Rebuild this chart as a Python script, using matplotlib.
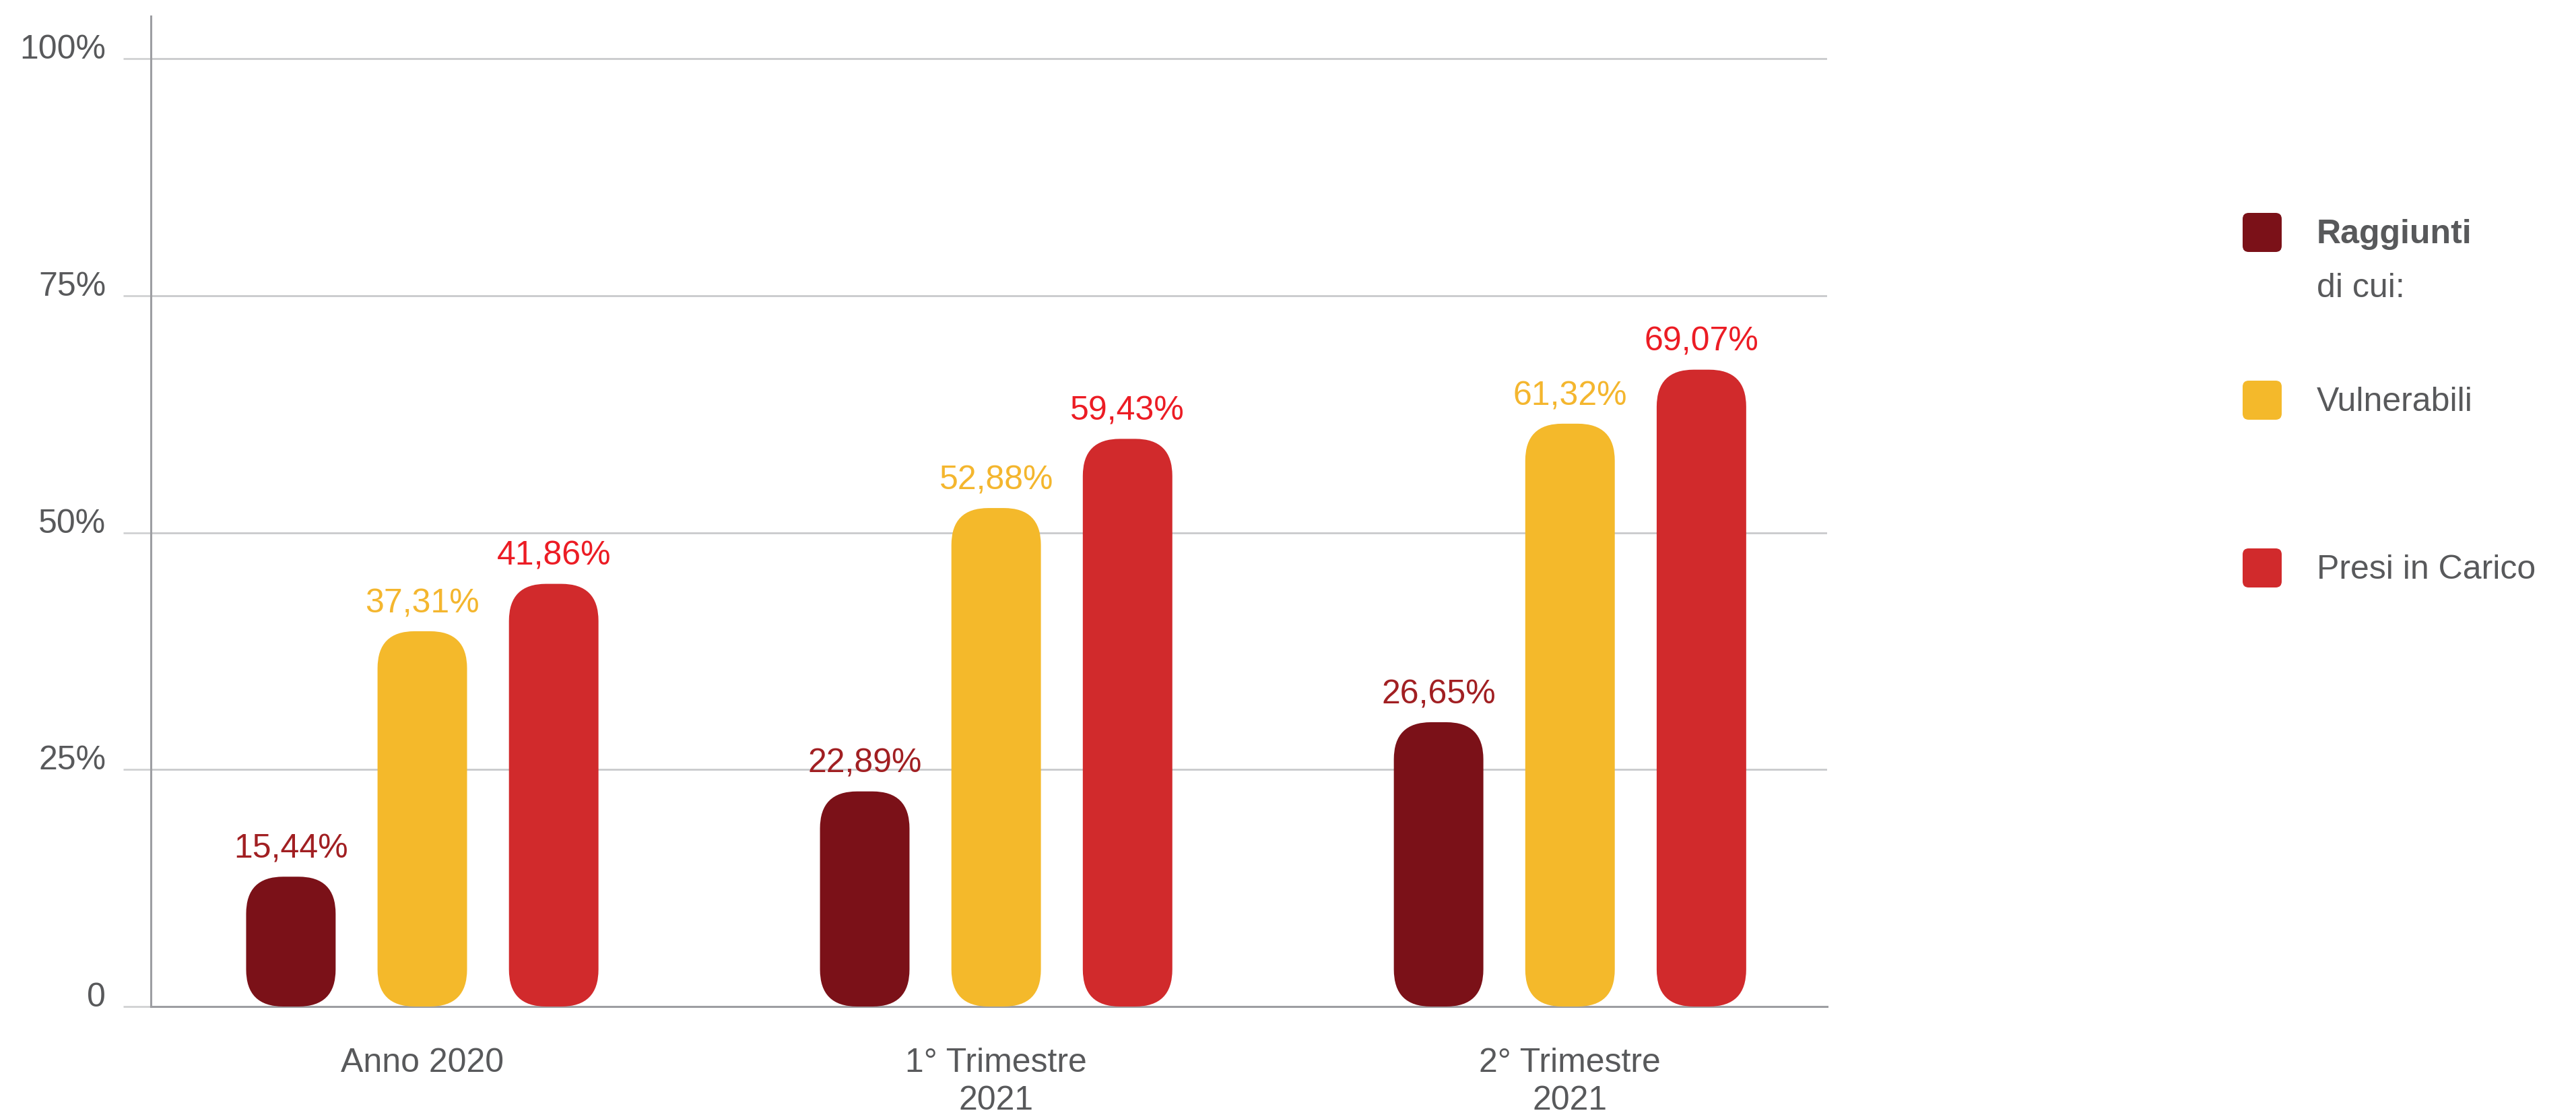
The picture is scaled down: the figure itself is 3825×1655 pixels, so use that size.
import matplotlib.pyplot as plt
from matplotlib.patches import FancyBboxPatch

categories = ['Anno 2020', '1° Trimestre\n2021', '2° Trimestre\n2021']
series_names = ['Raggiunti', 'Vulnerabili', 'Presi in Carico']

# bar heights as drawn in the picture (%), the printed labels are below
raggiunti = [13.7, 22.7, 30.0]
vulnerabili = [39.6, 52.6, 61.5]
presi_in_carico = [44.6, 59.9, 67.2]

raggiunti_labels = ['15,44%', '22,89%', '26,65%']
vulnerabili_labels = ['37,31%', '52,88%', '61,32%']
presi_labels = ['41,86%', '59,43%', '69,07%']

y_ticks = [0, 25, 50, 75, 100]
y_tick_labels = ['0', '25%', '50%', '75%', '100%']

bar_colors = ['#7b1118', '#f4b92b', '#d12a2c']
label_colors = ['#a11f22', '#f4b62e', '#ec1c24']
gray = '#58595b'
fs = 36

plt.rcParams['font.family'] = ['Liberation Sans', 'DejaVu Sans']

W, H = 3825, 1655
fig = plt.figure(figsize=(W / 100, H / 100), dpi=100)
ax = fig.add_axes([224 / W, 1 - 1494 / H, (2713 - 224) / W, (1494 - 24) / H])
ax.set_xlim(-0.473, 2.448)
ax.set_ylim(0, 104.5)

# pixels per data unit, used to keep the bar corners circular
p0 = ax.transData.transform((0, 0))
p1 = ax.transData.transform((1, 1))
px_x, px_y = p1[0] - p0[0], p1[1] - p0[1]

bar_w = 0.156
offset = 0.229
# the 'round' style uses bezier corners, a bit tighter than a true arc
radius = 55 / px_x

series = [raggiunti, vulnerabili, presi_in_carico]
series_labels = [raggiunti_labels, vulnerabili_labels, presi_labels]

for i, (vals, labs) in enumerate(zip(series, series_labels)):
    for j, (v, lab) in enumerate(zip(vals, labs)):
        x = j + (i - 1) * offset
        bar = FancyBboxPatch((x - bar_w / 2, 0), bar_w, v,
                             boxstyle=f'round,pad=0,rounding_size={radius}',
                             mutation_aspect=px_x / px_y,
                             fc=bar_colors[i], ec='none', zorder=3)
        ax.add_patch(bar)
        ax.annotate(lab, (x, v), xytext=(0, 20), textcoords='offset points',
                    ha='center', va='baseline', color=label_colors[i], fontsize=fs)

ax.set_yticks(y_ticks, y_tick_labels)
ax.set_xticks(range(len(categories)), categories)
ax.tick_params(axis='y', length=29.5, width=2, color='#d0d1d3', pad=18.7,
               labelsize=fs, labelcolor=gray)
ax.tick_params(axis='x', length=0, pad=44, labelsize=fs, labelcolor=gray)
for t in ax.get_yticklabels():
    t.set_verticalalignment('baseline')
for t in ax.get_xticklabels():
    t.set_linespacing(1.28)

ax.grid(axis='y', color='#c9cacc', linewidth=2)
ax.set_axisbelow(True)
for s in ['top', 'right']:
    ax.spines[s].set_visible(False)
for s in ['left', 'bottom']:
    ax.spines[s].set_color('#9d9ea2')
    ax.spines[s].set_linewidth(2.2)

# legend drawn by hand: squares plus text, "di cui:" under the first entry
legend_y = [345, 594, 843]
for name, color, yc in zip(series_names, bar_colors, legend_y):
    sq = FancyBboxPatch((3330 / W, 1 - (yc + 29) / H), 58 / W, 58 / H,
                        boxstyle=f'round,pad=0,rounding_size={9 / W}',
                        mutation_aspect=W / H, transform=fig.transFigure,
                        fc=color, ec='none')
    fig.patches.append(sq)
    weight = 'bold' if name == 'Raggiunti' else 'normal'
    fig.text(3440 / W, 1 - (yc + 16) / H, name, ha='left', va='baseline',
             fontsize=fs, color=gray, fontweight=weight)

fig.text(3440 / W, 1 - 441 / H, 'di cui:', ha='left', va='baseline',
         fontsize=fs, color=gray)

fig.savefig('out.png', dpi=100, facecolor='white')
